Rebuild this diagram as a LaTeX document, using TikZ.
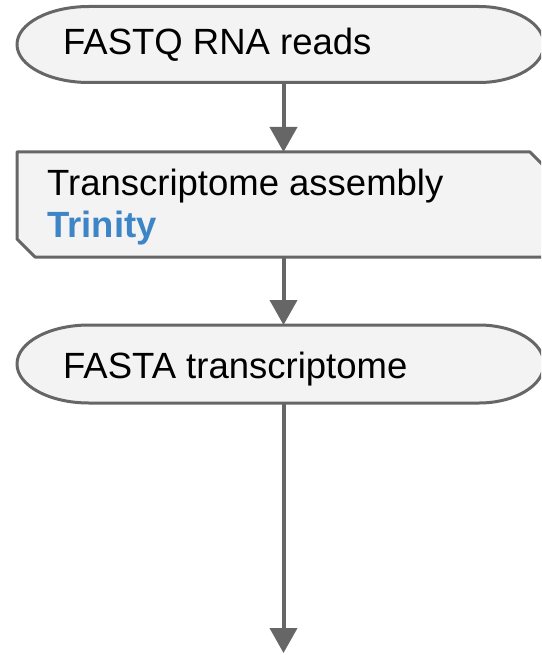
\documentclass[tikz,border=0pt]{standalone}
\usepackage{fontspec}
\setmainfont{Liberation Sans}
\usetikzlibrary{arrows.meta}
\definecolor{edge}{HTML}{666666}
\definecolor{boxfill}{HTML}{F3F3F3}
\definecolor{trin}{HTML}{3D85C6}
\tikzset{
  shapeline/.style={draw=edge, line width=3pt, fill=boxfill, line join=round},
  holder/.style={inner sep=0pt, outer sep=0pt},
  lbl/.style={inner sep=0pt, anchor=base west, font=\fontsize{36.5}{41}\selectfont},
  conn/.style={draw=edge, line width=4pt, -{Triangle[length=25pt,width=27pt]}},
}
\begin{document}
\begin{tikzpicture}[x=1pt,y=-1pt]
\useasboundingbox (0,0) rectangle (541,655);
\begin{scope}
\clip (0,0) rectangle (541,655);
% shape 1: FASTQ RNA reads
\node[holder, minimum width=527pt, minimum height=76pt] (n1) at (280.5,44.5) {};
\path[shapeline] (89,6.5) -- (479,6.5) arc[start angle=-90, end angle=90, x radius=65, y radius=38]
  -- (89,82.5) arc[start angle=90, end angle=270, x radius=72, y radius=38] -- cycle;
% shape 2: Transcriptome assembly
\node[holder, minimum width=531pt, minimum height=105pt] (n2) at (282.5,204.5) {};
\path[shapeline] (17,152) -- (530,152) -- (548,170) -- (548,257) -- (35,257) -- (17,239) -- cycle;
% shape 3: FASTA transcriptome
\node[holder, minimum width=527pt, minimum height=78pt] (n3) at (280.5,364) {};
\path[shapeline] (89,325) -- (479,325) arc[start angle=-90, end angle=90, x radius=65, y radius=39]
  -- (89,403) arc[start angle=90, end angle=270, x radius=72, y radius=39] -- cycle;
\end{scope}
\coordinate (ax) at (283.5,0);
\coordinate (end) at (283.5,653);
\node[lbl] (t1) at (63,55) {FASTQ RNA reads};
\node[lbl] (t2) at (47,195) {Transcriptome assembly};
\node[lbl, text=trin, font=\fontsize{36.5}{41}\selectfont\bfseries] (t2b) at (47,237) {Trinity};
\node[lbl] (t3) at (63,378) {FASTA transcriptome};
\draw[conn] (n1.south -| ax) -- (n2.north -| ax);
\draw[conn] (n2.south -| ax) -- (n3.north -| ax);
\draw[conn] (n3.south -| ax) -- (end);
\end{tikzpicture}
\end{document}
